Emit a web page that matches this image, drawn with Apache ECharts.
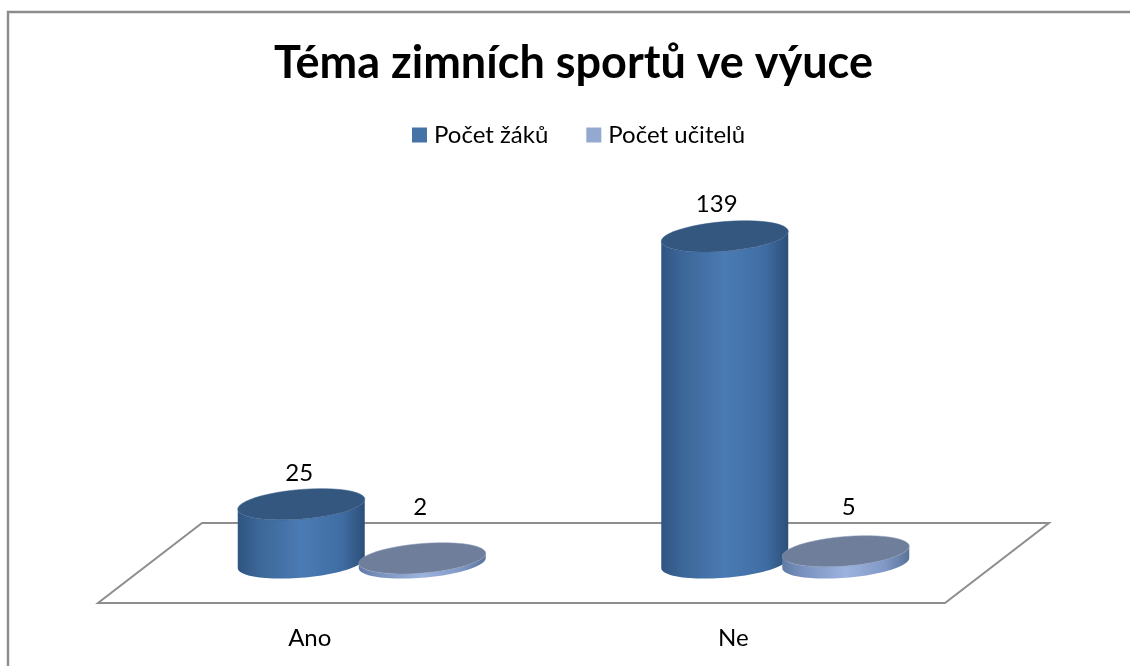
<!DOCTYPE html>
<html><head><meta charset="utf-8">
<style>html,body{margin:0;padding:0;background:#fff}#c{width:1130px;height:666px}</style>
<script src="https://cdn.jsdelivr.net/npm/echarts@6/dist/echarts.min.js"></script>
</head><body><div id="c"></div>
<script>
const categories = ['Ano', 'Ne'];
const pocetZaku = [25, 139];
const pocetUcitelu = [2, 5];
const seriesNames = ['Počet žáků', 'Počet učitelů'];
const titleText = 'Téma zimních sportů ve výuce';

const FONT = 'Lato';
const DEPTH_SHIFT = 52, SLOT = 60.5;          // 3D placement of the columns inside a band
const RX = 63.5, RY = 14.8, TILT = 5;         // ellipse shape
const FLOOR_FRONT = 40, FLOOR_BACK = 40, FLOOR_SKEW = 104;

function ellipse(cx, cy, from, to) {
  const pts = [];
  for (let i = 0; i <= 48; i++) {
    const t = from + (to - from) * i / 48;
    pts.push([cx + RX * Math.cos(t), cy + RY * Math.sin(t) - TILT * Math.cos(t)]);
  }
  return pts;
}
function cylinder(slot, side, top, edge, labelGap, labelDx) {
  return function (params, api) {
    const i = api.value(0), v = api.value(1);
    const base = api.coord([i, 0]), head = api.coord([i, v]);
    const cx = base[0] + DEPTH_SHIFT + slot * SLOT;
    const body = ellipse(cx, base[1], 0, Math.PI)
      .concat(ellipse(cx, head[1], Math.PI, 0));
    return {
      type: 'group',
      children: [
        { type: 'polygon', shape: { points: body },
          style: { fill: { type: 'linear', x: 0, y: 0, x2: 1, y2: 0, colorStops: side } } },
        { type: 'polygon', shape: { points: ellipse(cx, head[1], 0, Math.PI * 2) },
          style: { fill: top, stroke: edge, lineWidth: 0.5 } },
        { type: 'text', style: { text: String(v), x: cx + labelDx[i], y: head[1] - labelGap[i],
            textAlign: 'center', textVerticalAlign: 'middle',
            font: '24px ' + FONT, fill: '#000' } }
      ]
    };
  };
}
const floorItem = function (params, api) {
  const a = api.coord([0, 0]), b = api.coord([1, 0]);
  const band = b[0] - a[0], l = a[0] - band / 2, r = b[0] + band / 2, y = a[1];
  return { type: 'polygon',
    shape: { points: [[l, y + FLOOR_FRONT], [r, y + FLOOR_FRONT],
                      [r + FLOOR_SKEW, y - FLOOR_BACK], [l + FLOOR_SKEW, y - FLOOR_BACK]] },
    style: { fill: '#fff', stroke: '#8e8e8e', lineWidth: 2 } };
};
const blueSide = [
  { offset: 0, color: '#2f5482' }, { offset: 0.15, color: '#3b6596' },
  { offset: 0.5, color: '#4b7bb4' }, { offset: 0.82, color: '#3f6da3' },
  { offset: 1, color: '#2c4f78' }];
const paleSide = [
  { offset: 0, color: '#5f7ba6' }, { offset: 0.15, color: '#7890bd' },
  { offset: 0.5, color: '#9db3df' }, { offset: 0.8, color: '#8199c6' },
  { offset: 1, color: '#5a7399' }];

const chart = echarts.init(document.getElementById('c'), null, { renderer: 'canvas' });
chart.setOption({
  animation: false,
  backgroundColor: '#fff',
  title: { text: titleText, left: 269, top: 36,
    textStyle: { fontFamily: FONT, fontWeight: 'bold', fontSize: 45, color: '#000' } },
  legend: { data: seriesNames, left: 407, top: 118, itemWidth: 15, itemHeight: 15, itemGap: 38,
    icon: 'rect', textStyle: { fontFamily: FONT, fontSize: 24, color: '#000', padding: [0, 0, 0, 2] } },
  grid: { left: 98, width: 847, top: 210.5, height: 352.5 },
  xAxis: { type: 'category', data: categories,
    axisLine: { show: false }, axisTick: { show: false },
    axisLabel: { margin: 63, fontFamily: FONT, fontSize: 24, color: '#000' } },
  yAxis: { type: 'value', min: 0, max: 150, show: false },
  graphic: [{ type: 'polyline', silent: true, z: 0,
    shape: { points: [[8, 666], [8, 12], [1130, 12]] },
    style: { fill: null, stroke: '#8c8c8c', lineWidth: 2.4 } }],
  series: [
    { type: 'custom', name: '_floor', z: 1, clip: false, renderItem: floorItem,
      data: [[0, 0]], silent: true, encode: { x: 0, y: 1 } },
    { type: 'custom', name: seriesNames[0], z: 2, clip: false,
      itemStyle: { color: '#4573a7' },
      renderItem: cylinder(-1, blueSide, '#34577f', '#3a5f8a', [31, 32], [-2, -8]),
      data: pocetZaku.map((v, i) => [i, v]), encode: { x: 0, y: 1 } },
    { type: 'custom', name: seriesNames[1], z: 3, clip: false,
      itemStyle: { color: '#93a9cf' },
      renderItem: cylinder(1, paleSide, '#6f7f9b', '#8b9cba', [51, 44], [-2, 3]),
      data: pocetUcitelu.map((v, i) => [i, v]), encode: { x: 0, y: 1 } }
  ]
});
</script></body></html>
